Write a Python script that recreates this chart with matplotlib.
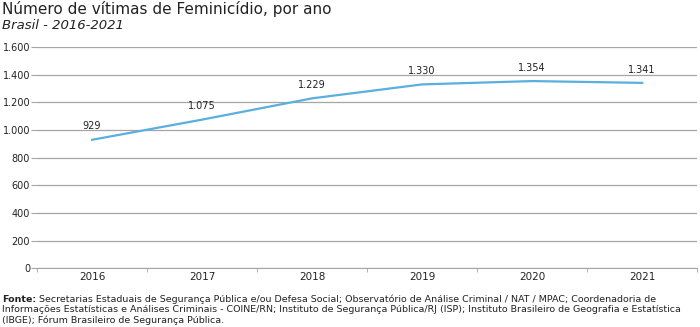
"""Número de vítimas de Feminicídio, por ano - Brasil 2016-2021"""
import matplotlib
matplotlib.use("Agg")
import matplotlib.pyplot as plt
from matplotlib.ticker import FuncFormatter, FixedLocator

years = ["2016", "2017", "2018", "2019", "2020", "2021"]
victims = [929, 1075, 1229, 1330, 1354, 1341]
yticks = [0, 200, 400, 600, 800, 1000, 1200, 1400, 1600]

LINE = "#5aafde"
GRID = "#a6a6a6"
TEXT = "#222222"


def fmt(v):
    return f"{int(v):,}".replace(",", ".")


fig = plt.figure(figsize=(7.0, 3.27), dpi=100)
ax = fig.add_axes([0.053, 0.180, 0.943, 0.676])

x = list(range(len(years)))
ax.plot(x, victims, color=LINE, lw=1.6, zorder=3)
for xi, v in zip(x, victims):
    ax.annotate(fmt(v), (xi, v), xytext=(0, 6), textcoords="offset points",
                ha="center", va="bottom", fontsize=7, color=TEXT)

ax.set_xlim(-0.5, len(years) - 0.5)
ax.set_ylim(0, 1600)
ax.set_yticks(yticks)
ax.yaxis.set_major_formatter(FuncFormatter(lambda v, p: fmt(v)))
ax.grid(axis="y", color=GRID, lw=0.9)
ax.set_axisbelow(True)

ax.set_xticks(x)
ax.set_xticklabels(years)
ax.xaxis.set_minor_locator(FixedLocator([i - 0.5 for i in range(len(years) + 1)]))
ax.tick_params(axis="x", which="major", length=0, pad=3, labelsize=7.5, colors=TEXT)
ax.tick_params(axis="x", which="minor", length=3, color=GRID)
ax.tick_params(axis="y", length=4, color=GRID, labelsize=7, colors=TEXT, pad=1)

for s in ["top", "right", "left"]:
    ax.spines[s].set_visible(False)
ax.spines["bottom"].set_color(GRID)

fig.text(0.003, 0.972, "Número de vítimas de Feminicídio, por ano", fontsize=11,
         color=TEXT, va="center", ha="left")
fig.text(0.003, 0.922, "Brasil - 2016-2021", fontsize=9.5, style="italic",
         color=TEXT, va="center", ha="left")

fam = ["Liberation Sans Narrow", "DejaVu Sans"]
fs = 6.8
top = 0.098
line_h = 10.3 / 327
fonte = fig.text(0.003, top, "Fonte:", fontsize=fs, weight="bold", family=fam,
                 color=TEXT, va="top", ha="left")
fig.canvas.draw()
bb = fonte.get_window_extent().transformed(fig.transFigure.inverted())
footer_lines = [
    "Secretarias Estaduais de Segurança Pública e/ou Defesa Social; Observatório de Análise Criminal / NAT / MPAC; Coordenadoria de",
    "Informações Estatísticas e Análises Criminais - COINE/RN; Instituto de Segurança Pública/RJ (ISP); Instituto Brasileiro de Geografia e Estatística",
    "(IBGE); Fórum Brasileiro de Segurança Pública.",
]
fig.text(bb.x1 + 0.004, top, footer_lines[0], fontsize=fs, family=fam,
         color=TEXT, va="top", ha="left")
for i, ln in enumerate(footer_lines[1:], start=1):
    fig.text(0.003, top - i * line_h, ln, fontsize=fs, family=fam,
             color=TEXT, va="top", ha="left")

fig.savefig("out.png", dpi=100)
